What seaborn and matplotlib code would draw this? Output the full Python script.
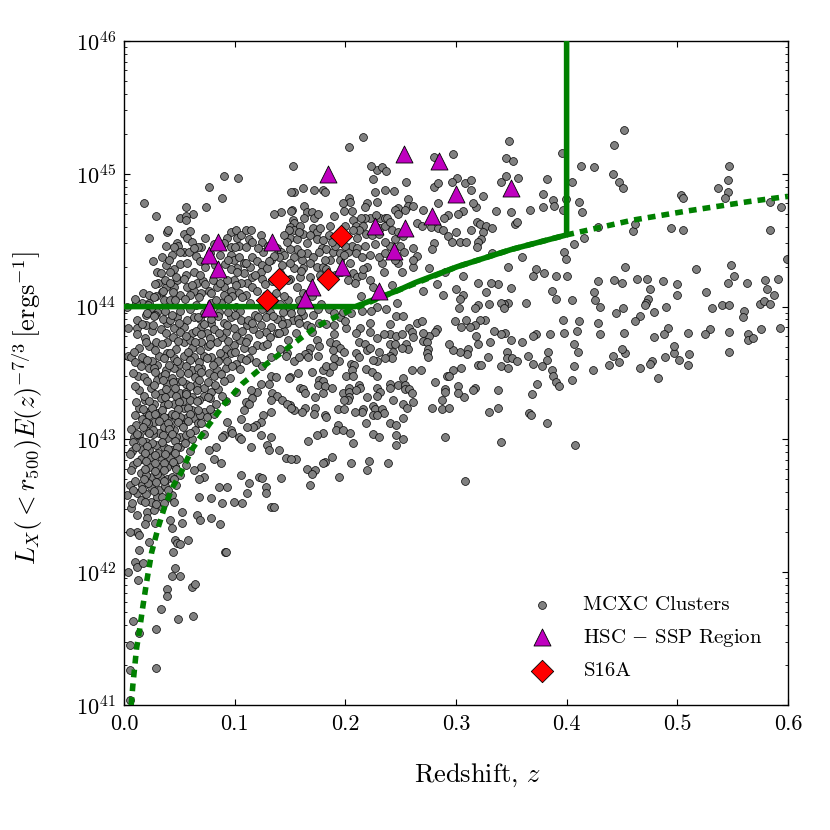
import numpy as np
import pandas as pd
import matplotlib
matplotlib.use("Agg")
import matplotlib.pyplot as plt
import seaborn as sns
from matplotlib.ticker import FixedLocator, FormatStrFormatter, LogLocator, NullFormatter

# ---------------- data (z, log10 L) ----------------
mcxc_high_z = [
(0.348,45.25),(0.345,45.12),(0.352,45.10),(0.297,45.15),(0.280,45.13),(0.396,45.16),(0.452,45.33),(0.443,45.22),(0.413,45.06),(0.425,45.05),
(0.442,45.00),(0.447,44.94),(0.451,44.89),(0.547,45.06),(0.546,44.95),(0.537,44.89),(0.546,44.86),(0.543,44.82),(0.503,44.84),(0.505,44.82),
(0.584,44.79),(0.594,44.75),(0.584,44.58),(0.494,44.59),(0.505,44.58),(0.460,44.57),(0.462,44.62),(0.428,44.60),(0.416,44.52),(0.407,44.47),
(0.405,44.94),(0.382,44.96),(0.379,44.85),(0.379,44.75),(0.388,44.80),(0.389,44.76),(0.397,44.73),(0.399,44.81),(0.411,44.79),(0.414,44.71),
(0.367,44.73),(0.350,44.71),(0.353,44.62),(0.355,44.64),(0.336,44.72),(0.341,44.94),(0.345,44.98),(0.356,44.97),(0.324,44.83),(0.318,44.75),
(0.315,44.78),(0.314,44.88),(0.308,44.93),(0.314,44.95),(0.301,44.97),(0.296,44.94),(0.280,44.90),(0.284,44.93),(0.284,44.78),(0.270,44.73),
(0.306,44.72),(0.302,44.70),(0.293,44.69),(0.289,44.67),(0.265,44.63),(0.269,44.61),(0.277,44.60),(0.284,44.59),(0.288,44.58),(0.293,44.53),
(0.300,44.56),(0.296,44.49),(0.304,44.49),(0.309,44.49),(0.314,44.58),(0.319,44.64),(0.322,44.62),(0.327,44.61),(0.324,44.56),(0.323,44.51),
(0.320,44.49),(0.319,44.45),(0.333,44.59),(0.280,44.48),(0.278,44.43),(0.265,44.38),(0.333,44.40),(0.360,44.37),(0.347,44.30),(0.276,44.29),
(0.290,44.26),(0.306,44.23),(0.372,44.28),(0.370,44.23),(0.380,44.25),(0.390,44.23),(0.400,44.23),(0.398,44.41),(0.399,44.36),
(0.453,44.30),(0.428,44.19),(0.443,44.20),(0.450,44.18),(0.464,44.21),(0.473,44.21),(0.475,44.13),(0.487,44.19),(0.500,44.17),(0.500,44.09),
(0.517,44.28),(0.549,44.31),(0.551,44.23),(0.546,44.18),(0.563,44.18),(0.579,44.20),(0.591,44.21),(0.599,44.36),(0.581,44.13),(0.587,44.09),
(0.526,44.11),(0.531,43.99),(0.540,44.01),(0.547,44.01),(0.560,43.97),(0.559,43.92),(0.575,44.02),(0.578,44.04),(0.584,44.02),(0.593,43.84),
(0.576,43.83),(0.564,43.79),(0.564,43.75),(0.568,43.76),(0.547,43.66),(0.547,43.81),(0.530,43.83),(0.525,43.79),(0.510,43.80),(0.511,43.64),
(0.510,43.56),(0.502,43.60),(0.497,43.65),(0.497,43.70),(0.489,43.62),(0.492,43.84),(0.488,43.79),(0.479,43.77),(0.483,43.46),(0.477,43.59),
(0.475,43.57),(0.466,43.54),(0.453,43.65),(0.450,43.68),(0.447,43.58),(0.438,43.56),(0.442,43.63),(0.452,43.80),(0.451,43.99),(0.445,43.95),
(0.466,43.93),(0.462,43.89),(0.479,43.96),(0.474,44.06),(0.472,44.03),(0.471,44.01),(0.490,44.00),(0.428,43.88),(0.430,43.79),(0.430,44.00),
(0.426,44.05),(0.425,44.11),(0.424,43.52),(0.411,43.89),(0.409,43.82),(0.407,43.72),(0.410,43.66),(0.407,43.55),(0.405,43.45),(0.397,43.90),
(0.398,43.80),(0.405,44.05),(0.387,44.12),(0.390,44.06),(0.385,43.79),(0.383,43.66),(0.382,43.60),(0.387,43.52),(0.388,43.48),(0.390,43.43),
(0.393,43.40),(0.373,43.42),(0.369,43.34),(0.366,43.20),(0.372,43.79),(0.370,43.78),(0.365,43.63),(0.370,43.57),(0.378,43.55),(0.363,44.03),
(0.360,43.73),(0.350,43.75),(0.344,43.80),(0.341,43.79),(0.346,43.66),(0.346,43.61),(0.351,43.61),(0.355,43.59),(0.341,43.55),(0.347,43.54),
(0.338,43.37),(0.338,43.24),(0.330,43.21),(0.347,44.03),(0.343,44.02),(0.341,44.03),(0.343,43.99),(0.350,44.14),(0.338,44.17),(0.332,44.18),
(0.327,44.11),(0.330,44.02),(0.320,44.01),(0.317,43.99),(0.320,44.18),(0.306,44.09),(0.304,44.06),(0.300,44.13),(0.303,43.99),(0.326,43.90),
(0.322,43.90),(0.317,43.86),(0.313,43.85),(0.309,43.90),(0.305,43.85),(0.299,43.89),(0.318,43.78),(0.320,43.72),(0.331,43.73),(0.334,43.82),
(0.320,43.56),(0.323,43.56),(0.329,43.62),(0.311,43.68),(0.310,43.64),(0.304,43.66),(0.297,43.67),(0.294,43.72),(0.305,43.54),(0.297,43.52),
(0.292,43.48),(0.294,43.48),(0.302,43.40),(0.307,43.32),(0.302,43.35),(0.290,43.38),(0.290,43.36),(0.287,43.30),(0.278,43.24),(0.287,43.23),
(0.294,43.24),(0.317,43.39),(0.315,43.37),(0.283,43.83),(0.281,43.81),(0.276,43.78),(0.270,43.80),(0.270,43.74),(0.274,43.73),(0.275,43.68),
(0.274,43.65),(0.275,43.62),(0.268,43.52),(0.281,43.43),(0.265,43.88),(0.269,43.89),(0.270,44.12),(0.283,44.17),(0.288,44.09),
(0.290,43.02),(0.341,42.98),(0.408,42.96),(0.308,42.69),(0.368,43.18),(0.382,43.12),
]

mcxc_mid_z = [
(0.216,45.28),(0.203,45.20),(0.153,45.06),(0.229,45.03),(0.233,45.05),(0.237,45.02),(0.225,44.96),(0.255,44.94),(0.154,44.86),(0.162,44.89),
(0.172,44.88),(0.180,44.88),(0.182,44.86),(0.227,44.86),(0.236,44.88),(0.244,44.87),(0.229,44.79),(0.220,44.78),(0.218,44.75),(0.203,44.82),
(0.204,44.79),(0.198,44.78),(0.199,44.72),(0.152,44.73),(0.163,44.76),(0.165,44.71),(0.170,44.71),(0.163,44.67),(0.172,44.67),(0.153,44.65),
(0.154,44.63),(0.150,44.60),(0.154,44.58),(0.257,44.81),(0.257,44.76),(0.261,44.76),(0.248,44.74),(0.245,44.73),(0.254,44.73),(0.231,44.67),
(0.236,44.67),(0.238,44.67),(0.222,44.67),(0.218,44.67),(0.214,44.67),(0.207,44.65),(0.210,44.61),(0.216,44.61),(0.212,44.58),(0.219,44.55),
(0.224,44.54),(0.231,44.59),(0.236,44.61),(0.240,44.64),(0.242,44.58),(0.248,44.56),(0.245,44.51),(0.261,44.44),(0.261,44.30),(0.223,45.06),
(0.206,44.72),
(0.150,44.52),(0.156,44.51),(0.162,44.55),(0.171,44.59),(0.174,44.56),(0.177,44.59),(0.168,44.54),(0.174,44.51),(0.180,44.50),(0.179,44.44),
(0.183,44.43),(0.189,44.41),(0.195,44.40),(0.202,44.41),(0.206,44.46),(0.207,44.58),(0.211,44.52),(0.211,44.44),(0.210,44.40),(0.215,44.37),
(0.222,44.39),(0.220,44.30),(0.233,44.33),(0.230,44.37),(0.248,44.33),(0.251,44.26),(0.261,44.35),(0.156,44.43),(0.150,44.43),(0.154,44.37),
(0.161,44.35),(0.165,44.40),(0.171,44.37),(0.168,44.33),(0.174,44.30),(0.162,44.29),(0.154,44.29),(0.150,44.33),(0.180,44.30),(0.186,44.35),
(0.204,44.33),(0.207,44.25),(0.211,44.22),(0.209,44.18),(0.202,44.20),(0.168,44.22),(0.159,44.22),(0.150,44.21),(0.156,44.15),(0.222,44.20),
(0.225,44.15),(0.242,44.16),
(0.159,44.61),(0.186,44.61),(0.200,44.61),(0.227,44.61),(0.191,44.46),(0.200,44.46),(0.218,44.46),(0.240,44.46),(0.249,44.46),(0.182,44.35),
(0.195,44.35),(0.245,44.35),(0.177,44.24),(0.191,44.24),(0.215,44.24),
(0.175,44.70),(0.190,44.68),(0.228,44.69),(0.248,44.70),(0.158,44.56),(0.185,44.54),(0.196,44.56),(0.230,44.55),(0.252,44.53),(0.165,44.48),
(0.188,44.49),(0.227,44.47),(0.236,44.49),(0.160,44.40),(0.176,44.41),(0.199,44.39),(0.236,44.40),(0.253,44.41),(0.160,44.27),(0.183,44.28),
(0.196,44.26),(0.216,44.28),(0.235,44.26),
(0.214,44.08),(0.247,44.03),(0.229,44.00),(0.223,43.97),(0.246,43.93),(0.252,43.93),(0.258,43.84),(0.260,43.81),(0.201,43.84),(0.213,43.84),
(0.229,43.76),(0.240,43.79),(0.246,43.78),(0.251,43.79),(0.261,43.77),(0.240,43.72),(0.245,43.72),(0.255,43.72),(0.257,43.68),(0.251,43.69),
(0.243,43.66),(0.240,43.63),(0.242,43.61),(0.236,43.61),(0.229,43.59),(0.230,43.66),(0.212,43.73),(0.218,43.72),(0.220,43.67),(0.222,43.69),
(0.210,43.65),(0.205,43.57),(0.208,43.56),(0.206,43.52),(0.219,43.53),(0.224,43.51),(0.229,43.48),(0.186,43.73),(0.192,43.72),(0.195,43.69),
(0.199,43.66),(0.189,43.67),(0.174,43.75),(0.176,43.70),(0.168,43.69),(0.166,43.65),(0.164,43.64),(0.166,43.62),(0.154,43.59),(0.185,43.51),
(0.180,43.52),(0.183,43.55),(0.194,43.59),(0.189,43.55),(0.170,43.51),(0.157,43.50),(0.150,43.47),(0.201,43.48),(0.207,43.48),(0.176,43.45),
(0.180,43.44),(0.175,43.41),(0.182,43.40),(0.188,43.39),(0.159,43.39),(0.162,43.38),(0.164,43.35),(0.173,43.32),(0.180,43.35),(0.198,43.35),
(0.203,43.39),(0.203,43.36),(0.212,43.41),(0.213,43.39),(0.210,43.37),(0.203,43.32),(0.202,43.30),(0.199,43.30),(0.220,43.32),(0.229,43.39),
(0.231,43.36),(0.229,43.33),(0.240,43.42),(0.240,43.39),(0.243,43.30),(0.248,43.41),(0.252,43.46),(0.254,43.41),(0.254,43.38),(0.258,43.38),
(0.260,43.35),(0.252,43.27),(0.256,43.24),(0.261,43.28),(0.252,43.16),(0.260,43.52),(0.225,43.25),(0.227,43.23),(0.233,43.23),(0.235,43.20),
(0.225,43.18),(0.229,43.18),(0.240,43.12),(0.246,43.11),(0.219,43.12),(0.225,43.04),(0.230,43.02),(0.246,43.03),(0.252,43.00),(0.246,42.96),
(0.216,43.23),(0.215,43.21),(0.209,43.21),(0.193,43.23),(0.199,43.23),(0.193,43.11),(0.192,43.07),(0.198,43.07),(0.204,43.05),(0.207,42.97),
(0.182,43.18),(0.183,43.17),(0.173,43.24),(0.164,43.24),(0.161,43.21),(0.154,43.22),(0.150,43.26),(0.172,43.19),(0.180,43.05),(0.174,43.03),
(0.166,42.99),(0.221,42.84),(0.220,42.77),(0.205,42.82),(0.188,42.87),(0.182,42.83),(0.180,42.82),(0.165,42.78),(0.173,42.77),(0.170,42.74),
(0.155,42.85),(0.168,42.66),(0.194,42.72),(0.239,42.82),
(0.153,43.90),(0.162,43.94),(0.165,43.86),(0.169,43.85),(0.157,43.91),(0.171,43.94),(0.158,44.05),(0.170,44.08),(0.178,44.02),(0.185,43.98),
(0.150,43.98),(0.162,44.10),(0.176,43.88),(0.190,43.95),(0.195,43.92),(0.205,43.95),(0.190,43.86),
(0.160,43.97),(0.175,43.98),(0.198,43.96),(0.215,43.97),(0.237,43.98),(0.158,43.88),(0.183,43.87),(0.200,43.89),(0.222,43.88),(0.240,43.87),
(0.155,43.80),(0.170,43.81),(0.190,43.79),(0.210,43.80),(0.222,43.81),(0.235,43.79),(0.158,43.62),(0.175,43.63),(0.190,43.61),(0.212,43.62),
(0.225,43.60),
]

mcxc_low_z = [
(0.077,44.90),(0.089,44.82),(0.018,44.78),(0.056,44.75),(0.074,44.75),(0.062,44.70),(0.029,44.68),(0.051,44.67),(0.056,44.68),(0.056,44.65),
(0.039,44.56),(0.023,44.52),(0.054,44.55),(0.060,44.57),(0.057,44.52),(0.073,44.52),(0.048,44.48),(0.070,44.45),(0.054,44.41),(0.059,44.41),
(0.034,44.37),(0.097,44.56),(0.101,44.58),(0.093,44.52),(0.102,44.52),(0.090,44.48),(0.097,44.45),(0.104,44.46),(0.106,44.54),(0.110,44.58),
(0.115,44.58),(0.113,44.51),(0.116,44.49),(0.124,44.54),(0.125,44.49),(0.142,44.71),(0.136,44.70),(0.151,44.72),(0.151,44.86),(0.149,44.58),
(0.145,44.54),(0.147,44.49),(0.138,44.44),(0.142,44.41),(0.145,44.39),(0.140,44.37),(0.097,44.39),(0.099,44.35),(0.104,44.37),(0.108,44.33),
(0.102,44.29),(0.097,44.28),(0.116,44.37),(0.120,44.34),(0.125,44.31),(0.124,44.26),(0.129,44.29),(0.133,44.35),(0.126,44.41),(0.108,44.25),
(0.116,44.22),(0.111,44.18),(0.106,44.18),(0.099,44.20),(0.093,44.20),(0.090,44.15),(0.097,44.12),(0.104,44.10),(0.116,44.15),(0.120,44.12),
(0.110,44.09),(0.090,44.09),(0.084,44.15),(0.077,44.12),(0.066,44.18),(0.063,44.12),(0.070,44.10),(0.057,44.15),(0.051,44.09),(0.048,44.20),
(0.045,44.15),(0.038,44.15),(0.034,44.11),(0.045,44.28),(0.047,44.22),(0.056,44.24),(0.063,44.26),(0.030,44.26),(0.036,44.05),(0.042,44.05),
(0.023,44.03),(0.016,44.03),(0.011,44.03),(0.003,44.00),(0.030,43.96),(0.024,43.99),(0.020,43.94),(0.012,43.84),(0.020,43.86),(0.039,43.88),
(0.048,43.92),(0.057,43.90),(0.045,43.84),(0.054,43.85),(0.061,43.80),(0.070,43.85),(0.079,43.88),(0.090,43.88),(0.097,43.92),(0.106,43.90),
(0.099,43.84),(0.111,43.86),(0.124,43.86),(0.133,43.85),(0.138,43.80),(0.142,43.90),(0.147,43.88),(0.151,43.95),(0.086,43.96),(0.029,43.73),
(0.039,43.73),(0.054,43.73),(0.070,43.73),(0.084,43.73),(0.099,43.71),(0.120,43.71),(0.075,43.80),(0.072,43.95),(0.088,44.03),
(0.065,44.01),(0.079,44.03),(0.101,44.00),(0.114,44.03),(0.141,44.02),(0.148,44.05),(0.037,43.97),(0.069,43.91),(0.118,43.94),(0.132,43.96),
(0.090,44.98),(0.103,44.97),(0.040,44.58),(0.049,44.46),(0.061,44.49),(0.051,44.41),(0.067,44.45),(0.031,44.18),(0.035,44.12),(0.044,44.11),
(0.017,44.10),(0.022,44.01),(0.012,43.90),(0.004,43.63),(0.017,43.61),(0.021,43.95),(0.028,43.94),(0.004,43.84),
(0.051,43.97),(0.060,43.98),(0.094,43.96),(0.105,43.97),(0.125,43.98),(0.144,43.96),(0.035,43.91),(0.042,43.90),(0.063,43.92),(0.079,43.91),
(0.112,43.90),(0.128,43.92),(0.138,43.91),(0.025,43.82),(0.033,43.83),(0.051,43.81),(0.065,43.82),(0.081,43.83),(0.092,43.81),(0.107,43.82),
(0.117,43.83),(0.128,43.81),(0.145,43.82),(0.019,43.76),(0.044,43.77),(0.060,43.75),(0.078,43.76),(0.089,43.77),(0.105,43.75),(0.112,43.76),
(0.132,43.77),(0.148,43.75),(0.014,43.69),(0.023,43.70),(0.047,43.68),(0.061,43.69),(0.076,43.70),(0.092,43.68),(0.108,43.69),(0.126,43.70),
(0.141,43.68),
(0.038,44.46),(0.081,44.47),(0.110,44.45),(0.130,44.46),(0.043,44.39),(0.065,44.38),(0.078,44.40),(0.087,44.39),(0.136,44.38),(0.038,44.31),
(0.051,44.32),(0.073,44.30),(0.082,44.31),(0.091,44.32),(0.114,44.30),(0.143,44.31),(0.037,44.20),(0.054,44.21),(0.071,44.19),(0.080,44.20),
(0.125,44.21),(0.134,44.19),(0.148,44.20),(0.023,44.09),(0.029,44.08),(0.060,44.09),(0.079,44.10),(0.098,44.08),(0.128,44.09),(0.137,44.10),
(0.145,44.08),
(0.045,44.45),(0.063,44.44),(0.087,44.46),(0.100,44.45),(0.121,44.44),(0.026,44.34),(0.041,44.35),(0.057,44.33),(0.069,44.34),(0.094,44.35),
(0.110,44.33),(0.131,44.34),(0.033,44.25),(0.042,44.26),(0.069,44.24),(0.086,44.25),(0.102,44.26),(0.118,44.24),(0.141,44.25),(0.028,44.17),
(0.042,44.18),(0.061,44.16),(0.073,44.17),(0.087,44.18),(0.101,44.16),(0.127,44.17),(0.010,44.06),(0.027,44.07),(0.046,44.05),(0.055,44.06),
(0.068,44.07),(0.083,44.05),(0.094,44.06),(0.107,44.07),(0.135,44.05),
]

mcxc_dense_faint = [
(0.006,43.62),(0.016,43.62),(0.032,43.63),(0.039,43.65),(0.045,43.61),(0.054,43.63),(0.063,43.62),(0.072,43.63),(0.079,43.62),(0.090,43.63),
(0.097,43.65),(0.106,43.61),(0.113,43.61),(0.133,43.62),(0.147,43.65),(0.013,43.48),(0.023,43.54),(0.030,43.56),(0.038,43.52),(0.045,43.54),
(0.051,43.50),(0.061,43.52),(0.070,43.54),(0.077,43.50),(0.084,43.52),(0.092,43.54),(0.030,43.45),(0.039,43.42),(0.048,43.43),(0.056,43.42),
(0.065,43.41),(0.072,43.39),(0.079,43.36),(0.072,43.33),(0.024,43.39),(0.033,43.35),(0.042,43.35),(0.051,43.35),(0.061,43.32),(0.068,43.30),
(0.027,43.27),(0.036,43.26),(0.045,43.27),(0.054,43.24),(0.061,43.22),(0.072,43.21),(0.014,43.24),(0.020,43.21),(0.030,43.20),(0.039,43.16),
(0.047,43.15),(0.056,43.16),(0.063,43.16),(0.016,43.15),(0.027,43.13),(0.036,43.09),(0.045,43.07),(0.021,43.06),(0.009,43.02),(0.032,43.05),
(0.039,43.01),(0.051,43.02),(0.061,43.00),(0.020,42.98),(0.029,42.96),(0.036,42.94),(0.043,42.92),(0.051,42.94),(0.016,42.92),(0.024,42.87),
(0.033,42.87),(0.042,42.86),(0.050,42.85),(0.015,42.85),(0.023,42.79),(0.032,42.79),(0.039,42.79),(0.015,42.75),(0.025,42.72),(0.033,42.71),
(0.039,42.70),(0.024,42.64),(0.032,42.62),(0.016,42.66),(0.012,42.60),(0.030,42.57),(0.024,42.53),(0.015,42.54),(0.039,42.56),(0.034,42.49),
(0.006,42.48),(0.012,42.43),(0.021,42.45),(0.027,42.47),
(0.010,43.58),(0.025,43.59),(0.051,43.57),(0.068,43.58),(0.085,43.59),(0.101,43.57),(0.119,43.58),(0.018,43.47),(0.034,43.48),(0.043,43.46),
(0.064,43.47),(0.081,43.48),(0.096,43.46),(0.014,43.37),(0.038,43.38),(0.056,43.36),(0.066,43.37),(0.085,43.38),(0.101,43.36),(0.019,43.30),
(0.033,43.31),(0.053,43.29),(0.060,43.30),(0.078,43.31),(0.092,43.29),(0.023,43.18),(0.043,43.19),(0.051,43.17),(0.069,43.18),(0.081,43.19),
(0.011,43.11),(0.022,43.12),(0.042,43.10),(0.052,43.11),(0.067,43.12),(0.014,43.03),(0.026,43.04),(0.047,43.02),(0.056,43.03),(0.072,43.04),
(0.007,42.91),(0.023,42.92),(0.031,42.90),(0.060,42.91),(0.008,42.81),(0.028,42.82),(0.046,42.80),(0.056,42.81),(0.020,42.73),(0.030,42.74),
(0.043,42.72),(0.051,42.73),(0.005,42.66),(0.022,42.67),(0.037,42.65),(0.047,42.66),(0.003,42.58),(0.020,42.59),(0.034,42.57),(0.043,42.58),
]

mcxc_core = [
(0.027,43.93),(0.043,43.94),(0.067,43.92),(0.085,43.93),(0.100,43.94),(0.121,43.92),(0.135,43.93),
(0.016,43.87),(0.026,43.86),(0.050,43.88),(0.072,43.87),(0.093,43.86),(0.116,43.88),(0.143,43.87),
(0.012,43.79),(0.038,43.80),(0.056,43.78),(0.070,43.79),(0.086,43.80),(0.101,43.78),(0.122,43.79),(0.140,43.80),
(0.020,43.73),(0.034,43.72),(0.049,43.74),(0.064,43.73),(0.078,43.72),(0.094,43.74),(0.110,43.73),(0.129,43.72),
(0.009,43.66),(0.028,43.67),(0.042,43.65),(0.058,43.66),(0.069,43.67),(0.087,43.65),(0.100,43.66),(0.116,43.67),
(0.021,43.60),(0.036,43.61),(0.048,43.59),(0.060,43.60),(0.075,43.61),(0.093,43.59),(0.110,43.60),
(0.015,43.55),(0.027,43.54),(0.041,43.56),(0.056,43.55),(0.067,43.54),(0.080,43.56),(0.098,43.55),(0.105,43.53),
(0.008,43.50),(0.028,43.51),(0.037,43.49),(0.058,43.50),(0.070,43.51),(0.088,43.49),
(0.021,43.44),(0.035,43.45),(0.044,43.43),(0.052,43.44),(0.068,43.45),(0.076,43.43),(0.090,43.44),
(0.010,43.40),(0.027,43.41),(0.046,43.39),(0.060,43.40),(0.082,43.41),
(0.018,43.33),(0.028,43.34),(0.037,43.32),(0.047,43.33),(0.056,43.34),(0.076,43.32),(0.089,43.33),
(0.011,43.28),(0.023,43.29),(0.040,43.27),(0.050,43.28),(0.066,43.29),(0.083,43.27),
(0.017,43.23),(0.025,43.24),(0.034,43.22),(0.049,43.23),(0.058,43.24),(0.067,43.22),(0.078,43.23),
(0.010,43.18),(0.028,43.19),(0.036,43.17),(0.046,43.18),(0.060,43.19),(0.075,43.17),
(0.020,43.13),(0.032,43.14),(0.040,43.12),(0.049,43.13),(0.058,43.14),(0.070,43.12),
(0.006,43.08),(0.017,43.09),(0.026,43.07),(0.041,43.08),(0.053,43.09),(0.064,43.07),
(0.012,43.04),(0.023,43.05),(0.035,43.03),(0.043,43.04),(0.060,43.05),
(0.008,42.98),(0.016,42.99),(0.025,42.97),(0.034,42.98),(0.046,42.99),(0.055,42.97),
(0.011,42.94),(0.021,42.95),(0.040,42.93),(0.048,42.94),
(0.005,42.89),(0.019,42.90),(0.028,42.88),(0.037,42.89),(0.046,42.90),
(0.012,42.83),(0.020,42.84),(0.036,42.82),(0.044,42.83),
(0.006,42.77),(0.019,42.78),(0.028,42.76),(0.036,42.77),(0.047,42.78),
(0.010,42.69),(0.018,42.70),(0.029,42.68),(0.036,42.69),(0.045,42.70),
(0.008,42.62),(0.016,42.63),(0.027,42.61),(0.040,42.62),
(0.007,42.52),(0.019,42.53),(0.029,42.51),(0.036,42.52),(0.045,42.53),
]

mcxc_sparse_low = [
(0.146,43.63),(0.125,43.55),(0.133,43.48),(0.137,43.47),(0.149,43.46),(0.131,43.42),(0.124,43.42),(0.120,43.36),(0.115,43.37),(0.116,43.31),
(0.110,43.28),(0.113,43.27),(0.108,43.22),(0.134,43.35),(0.138,43.33),(0.143,43.30),(0.147,43.27),(0.151,43.24),(0.133,43.30),(0.133,43.21),
(0.126,43.18),(0.124,43.13),(0.119,43.11),(0.117,43.09),(0.111,43.09),(0.106,43.15),(0.093,43.13),(0.097,43.07),(0.098,43.05),(0.104,43.02),
(0.090,43.03),(0.089,43.02),(0.124,43.03),(0.133,43.02),(0.106,43.00),(0.129,42.96),(0.131,42.92),(0.140,42.92),(0.146,42.86),(0.151,42.85),
(0.115,42.94),(0.077,42.92),(0.083,42.94),(0.081,42.85),(0.088,42.82),(0.070,42.79),(0.072,42.72),(0.063,42.77),(0.068,42.70),(0.106,42.73),
(0.122,42.72),(0.125,42.71),(0.128,42.64),(0.128,42.60),(0.113,42.67),(0.111,42.60),(0.142,42.71),(0.086,42.64),(0.093,42.64),(0.079,42.56),
(0.068,42.57),(0.089,42.52),(0.099,42.53),(0.107,42.52),(0.133,42.49),(0.136,42.49),(0.052,42.45),(0.066,42.43),(0.079,42.41),
(0.021,42.41),(0.028,42.37),(0.019,42.36),(0.012,42.30),(0.005,42.30),(0.014,42.28),(0.023,42.23),(0.042,42.39),(0.043,42.33),(0.052,42.37),
(0.058,42.24),(0.069,42.39),(0.046,42.24),(0.048,42.22),(0.051,42.21),(0.044,42.15),(0.014,42.17),(0.010,42.08),(0.004,42.00),(0.012,42.04),
(0.017,42.07),(0.013,41.94),(0.046,42.03),(0.043,41.97),(0.051,41.97),(0.039,41.87),(0.039,41.82),(0.033,41.72),(0.061,41.89),(0.064,41.91),
(0.049,41.65),(0.062,41.67),(0.008,41.63),(0.014,41.54),(0.029,41.57),(0.005,41.45),(0.005,41.26),(0.029,41.28),(0.005,41.04),(0.087,42.36),
(0.091,42.15),(0.092,42.15),
]

# HSC-SSP region clusters and S16A clusters
hsc_z    = [0.077, 0.077, 0.085, 0.085, 0.134, 0.170, 0.164, 0.184, 0.197, 0.227, 0.230, 0.244, 0.253, 0.254, 0.285, 0.300, 0.278, 0.350]
hsc_logL = [43.99, 44.39, 44.49, 44.28, 44.49, 44.15, 44.06, 45.00, 44.30, 44.61, 44.12, 44.42, 45.15, 44.59, 45.10, 44.85, 44.68, 44.89]
s16a_z    = [0.129, 0.140, 0.184, 0.196]
s16a_logL = [44.05, 44.21, 44.21, 44.53]

# selection curves
flux_limit_z    = [0.0065, 0.008, 0.0114, 0.0138, 0.017, 0.0205, 0.025, 0.031, 0.037, 0.0445, 0.051, 0.061, 0.075, 0.090,
                   0.107, 0.126, 0.145, 0.174, 0.198, 0.247, 0.301, 0.350, 0.400, 0.459, 0.509, 0.564, 0.600]
flux_limit_logL = [41.00, 41.15, 41.43, 41.55, 41.74, 41.93, 42.15, 42.34, 42.50, 42.65, 42.74, 42.92, 43.09, 43.26,
                   43.42, 43.55, 43.67, 43.85, 43.95, 44.12, 44.30, 44.43, 44.54, 44.65, 44.72, 44.79, 44.83]
selection_z    = [0.0, 0.209, 0.247, 0.263, 0.301, 0.350, 0.400, 0.400]
selection_logL = [44.0, 44.0, 44.12, 44.18, 44.30, 44.43, 44.54, 46.0]

x_ticks = [0.0, 0.1, 0.2, 0.3, 0.4, 0.5, 0.6]

# ---------------- build tables ----------------
mcxc = pd.DataFrame(mcxc_high_z + mcxc_mid_z + mcxc_low_z + mcxc_dense_faint + mcxc_core + mcxc_sparse_low,
                    columns=["z", "logL"])
mcxc["L"] = 10 ** mcxc["logL"]
hsc = pd.DataFrame({"z": hsc_z, "L": 10 ** np.array(hsc_logL)})
s16a = pd.DataFrame({"z": s16a_z, "L": 10 ** np.array(s16a_logL)})
flux = pd.DataFrame({"z": flux_limit_z, "L": 10 ** np.array(flux_limit_logL)})
sel = pd.DataFrame({"z": selection_z, "L": 10 ** np.array(selection_logL)})

# ---------------- style ----------------
plt.rcParams.update({
    "font.family": "serif",
    "font.serif": ["cmr10"],
    "mathtext.fontset": "cm",
    "axes.formatter.use_mathtext": True,
    "axes.unicode_minus": True,
    "xtick.direction": "in",
    "ytick.direction": "in",
    "xtick.top": True,
    "ytick.right": True,
    "xtick.major.size": 4,
    "ytick.major.size": 4,
    "ytick.minor.size": 2,
    "xtick.major.pad": 7,
    "ytick.major.pad": 6,
    "axes.linewidth": 1.0,
})

fig = plt.figure(figsize=(8.3, 8.3), dpi=100)
ax = fig.add_axes([0.1494, 0.1506, 0.7999, 0.8000])

sns.scatterplot(data=mcxc, x="z", y="L", ax=ax, color="0.5", edgecolor="k", linewidth=0.5,
                s=32, label="MCXC Clusters", zorder=2)
sns.lineplot(data=flux, x="z", y="L", ax=ax, color="#008000", linewidth=4,
             linestyle=(0, (1.4, 1.1)), estimator=None, sort=False, zorder=3)
sns.lineplot(data=sel, x="z", y="L", ax=ax, color="#008000", linewidth=4,
             estimator=None, sort=False, zorder=3)
sns.scatterplot(data=hsc, x="z", y="L", ax=ax, color="#bf00bf", edgecolor="k", linewidth=0.6,
                marker="^", s=150, label=r"$\mathrm{HSC}\,-\,\mathrm{SSP\ Region}$", zorder=4)
sns.scatterplot(data=s16a, x="z", y="L", ax=ax, color="red", edgecolor="k", linewidth=0.6,
                marker="D", s=130, label="S16A", zorder=5)

ax.set_yscale("log")
ax.set_xlim(0.0, 0.6)
ax.set_ylim(1e41, 1e46)
ax.xaxis.set_major_locator(FixedLocator(x_ticks))
ax.xaxis.set_major_formatter(FormatStrFormatter("%.1f"))
ax.yaxis.set_major_locator(LogLocator(base=10, numticks=10))
ax.yaxis.set_minor_locator(LogLocator(base=10, subs=np.arange(2, 10), numticks=20))
ax.yaxis.set_minor_formatter(NullFormatter())
ax.tick_params(axis="both", which="major", labelsize=16)

ax.set_xlabel(r"Redshift, $z$", fontsize=19)
ax.xaxis.set_label_coords(0.533, -0.085)
ax.set_ylabel(r"$L_X(<r_{500})E(z)^{-7/3}\,\left[\mathrm{ergs}^{-1}\right]$", fontsize=19)
ax.yaxis.set_label_coords(-0.119, 0.447)

ax.legend(loc="lower right", frameon=False, scatterpoints=1, fontsize=15,
          handletextpad=1.0, labelspacing=0.6, borderaxespad=0.8)

fig.savefig("out.png", dpi=100, facecolor="white")
